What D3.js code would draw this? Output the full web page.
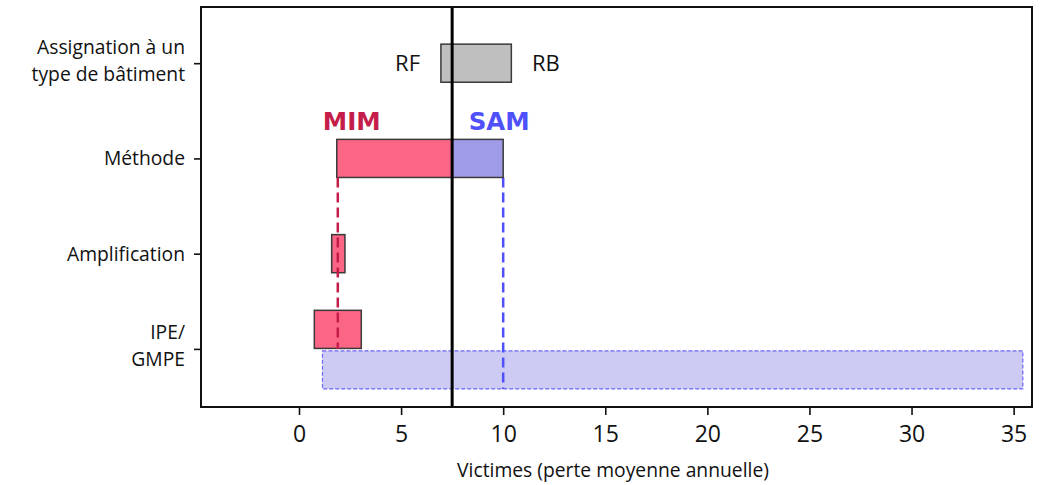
<!DOCTYPE html>
<html><head><meta charset="utf-8">
<script src="https://cdn.jsdelivr.net/npm/d3@7"></script>
<style>body{margin:0;background:#fff;} svg{display:block;}</style>
</head><body>
<svg id="c" width="1049" height="485"></svg>
<script>
// ---- data ----
const categories = ["Assignation à un|type de bâtiment", "Méthode", "Amplification", "IPE/|GMPE"];
const categoryPos = [3, 2, 1, 0];
const xTicks = [0, 5, 10, 15, 20, 25, 30, 35];
const referenceValue = 7.5;
// bars: [start, end] in victims, row position, vertical offset in row units
const assignBar = {x0: 6.95, x1: 10.4, row: 3, off: 0};
const mimBars = [
  {x0: 1.85, x1: 7.5, row: 2, off: 0},
  {x0: 1.6, x1: 2.25, row: 1, off: 0},
  {x0: 0.75, x1: 3.05, row: 0, off: 0.205}
];
const samBars = [
  {x0: 7.5, x1: 10.0, row: 2, off: 0}
];
const samRangeBar = {x0: 1.15, x1: 35.45, row: 0, off: -0.22};
const mimValue = 1.9;
const samValue = 10.0;
const barHeight = 0.4;

// ---- layout ----
const svg = d3.select("#c");
const L = 201, R = 1032, T = 7, B = 407;
const x = d3.scaleLinear().domain([-4.8, 35.9]).range([L, R]);
const y = d3.scaleLinear().domain([-0.61, 3.59]).range([B, T]);
const bh = y(0) - y(barHeight);
const FONT = "Open Sans";

function drawBar(d, fill, stroke, dash, sw) {
  svg.append("rect")
    .attr("x", x(d.x0)).attr("width", x(d.x1) - x(d.x0))
    .attr("y", y(d.row + d.off + barHeight / 2)).attr("height", bh)
    .attr("fill", fill).attr("stroke", stroke).attr("stroke-width", sw || 1.5)
    .attr("stroke-dasharray", dash || null);
}

// SAM range bar (IPE)
drawBar(samRangeBar, "#cdcbf3", "#6a66f5", "4,2", 1.2);
// dashed vertical lines
svg.append("line")
  .attr("x1", x(samValue)).attr("x2", x(samValue))
  .attr("y1", y(2 - barHeight / 2)).attr("y2", y(samRangeBar.off - barHeight / 2))
  .attr("stroke", "#5050fa").attr("stroke-width", 2.5).attr("stroke-dasharray", "10,5");

drawBar(assignBar, "#bfbfbf", "#3a3a3a");
mimBars.forEach(d => drawBar(d, "#fb6686", "#3a3a3a"));
samBars.forEach(d => drawBar(d, "#a09be8", "#3a3a3a"));
// MIM dashed line over the small bars
svg.append("line")
  .attr("x1", x(mimValue)).attr("x2", x(mimValue))
  .attr("y1", y(2 - barHeight / 2)).attr("y2", y(0))
  .attr("stroke", "#c41d4a").attr("stroke-width", 2.5).attr("stroke-dasharray", "10,5");

// reference vertical line
svg.append("line")
  .attr("x1", x(referenceValue)).attr("x2", x(referenceValue))
  .attr("y1", T).attr("y2", B)
  .attr("stroke", "#000").attr("stroke-width", 3);

// frame
svg.append("rect").attr("x", L).attr("y", T).attr("width", R - L).attr("height", B - T)
  .attr("fill", "none").attr("stroke", "#111").attr("stroke-width", 2);

// x axis
const xAxis = d3.axisBottom(x).tickValues(xTicks).tickSize(8).tickPadding(11);
const gx = svg.append("g").attr("transform", `translate(0,${B})`).call(xAxis);
gx.select(".domain").remove();
gx.selectAll(".tick line").attr("stroke", "#111").attr("stroke-width", 1.6);
gx.selectAll("text").attr("font-family", FONT).attr("font-size", 23).attr("fill", "#111");

// y axis
const yAxis = d3.axisLeft(y).tickValues(categoryPos).tickSize(7).tickFormat("");
const gy = svg.append("g").attr("transform", `translate(${L},0)`).call(yAxis);
gy.select(".domain").remove();
gy.selectAll(".tick line").attr("stroke", "#111").attr("stroke-width", 1.6);
categories.forEach((c, i) => {
  const lines = c.split("|");
  const t = svg.append("text").attr("text-anchor", "end")
    .attr("font-family", FONT).attr("font-size", 19.3).attr("fill", "#111");
  const cy = y(categoryPos[i]);
  if (lines.length === 1) {
    t.append("tspan").attr("x", 185).attr("y", cy + 7).text(lines[0]);
  } else {
    lines.forEach((ln, j) => t.append("tspan").attr("x", 185).attr("y", cy - 9.5 + j * 27).text(ln));
  }
});

// x axis title
svg.append("text").attr("x", 613).attr("y", 477).attr("text-anchor", "middle")
  .attr("font-family", FONT).attr("font-size", 19.3).attr("fill", "#111")
  .text("Victimes (perte moyenne annuelle)");

// annotations
svg.append("text").attr("x", 420).attr("y", y(3) + 8).attr("text-anchor", "end")
  .attr("font-family", FONT).attr("font-size", 22).attr("fill", "#111").text("RF");
svg.append("text").attr("x", 532).attr("y", y(3) + 8).attr("text-anchor", "start")
  .attr("font-family", FONT).attr("font-size", 22).attr("fill", "#111").text("RB");
svg.append("text").attr("x", x(mimBars[0].x0) + 15).attr("y", y(2 + barHeight / 2) - 9).attr("text-anchor", "middle")
  .attr("font-family", "DejaVu Sans").attr("font-weight", "bold").attr("font-size", 24.5).attr("fill", "#c41d4a").text("MIM");
svg.append("text").attr("x", x(samBars[0].x1) - 4).attr("y", y(2 + barHeight / 2) - 9).attr("text-anchor", "middle")
  .attr("font-family", "DejaVu Sans").attr("font-weight", "bold").attr("font-size", 24.5).attr("fill", "#5050fa").text("SAM");
</script>
</body></html>
